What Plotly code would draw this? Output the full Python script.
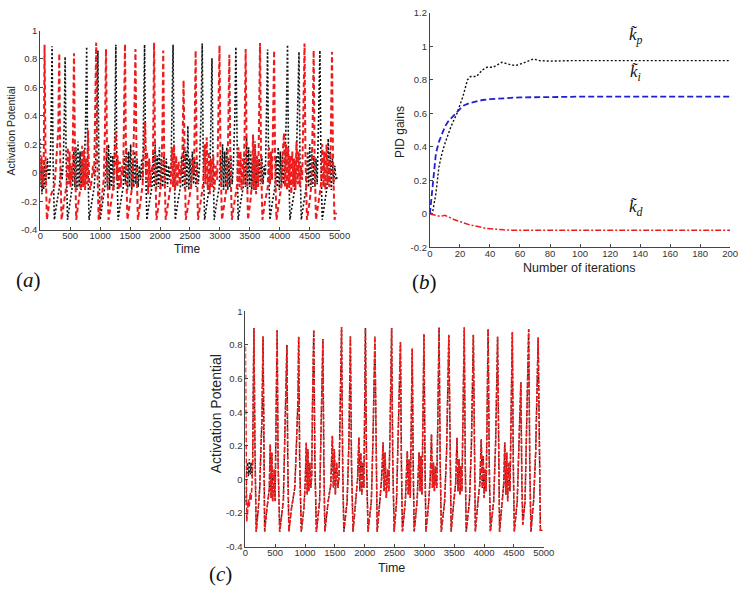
import plotly.graph_objects as go

W, H = 750, 593

# ---------------- data: panel (a) ----------------
# reference (black dotted): (time, activation potential) vertices
a_ref = [(0,0.24),(8,-0.1),(18,0.1),(28,-0.15),(40,0.0),(55,-0.12),(70,0.08),(85,-0.1),(100,-0.02),(120,0.1),(140,-0.05),(160,0.0),(180,0.3),(197,0.89),(213,0.1),(235,-0.33),
 (280,-0.2),(320,-0.1),(345,0.05),(365,-0.05),(385,0.1),(400,0.35),(415,0.816),(432,0.1),(455,-0.33),
 (500,-0.2),(540,-0.08),(560,0.15),(578,-0.1),(595,0.18),(612,-0.12),(630,0.22),(648,-0.1),(665,0.15),(682,-0.12),(700,0.1),(718,-0.08),(735,0.05),(755,0.3),(775,0.886),(792,0.1),(815,-0.33),
 (860,-0.2),(900,-0.1),(925,0.05),(945,0.35),(962,0.86),(978,0.1),(1000,-0.33),
 (1045,-0.2),(1085,-0.08),(1105,0.15),(1122,-0.1),(1140,0.2),(1158,-0.12),(1175,0.14),(1192,-0.1),(1210,0.12),(1228,-0.12),(1245,0.3),(1262,0.9),(1278,0.1),(1300,-0.33),
 (1345,-0.2),(1385,-0.1),(1405,0.12),(1422,-0.08),(1440,0.18),(1458,-0.12),(1475,0.15),(1492,-0.1),(1510,0.2),(1528,-0.12),(1545,0.1),(1562,-0.1),(1580,0.15),(1598,-0.08),(1615,0.1),(1635,-0.1),(1655,0.05),(1675,-0.05),(1695,0.1),(1712,-0.05),(1725,0.4),(1742,0.9),(1758,0.1),(1780,-0.33),
 (1825,-0.2),(1865,-0.1),(1885,0.15),(1902,-0.1),(1920,0.2),(1938,-0.12),(1955,0.12),(1972,-0.1),(1990,0.18),(2008,-0.12),(2025,0.1),(2045,-0.1),(2065,0.12),(2085,-0.08),(2105,0.1),(2125,-0.1),(2145,0.05),(2165,-0.05),(2185,0.05),(2200,0.4),(2218,0.9),(2234,0.1),(2255,-0.33),
 (2300,-0.2),(2340,-0.1),(2360,0.12),(2378,-0.1),(2395,0.2),(2412,-0.12),(2430,0.15),(2448,-0.1),(2465,0.33),(2482,-0.12),(2500,0.1),(2520,-0.1),(2540,0.15),(2560,-0.08),(2580,0.1),(2600,-0.1),(2620,0.08),(2640,-0.08),(2660,0.05),(2685,0.4),(2705,0.908),(2722,0.1),(2745,-0.33),
 (2790,-0.2),(2830,-0.08),(2850,0.35),(2868,0.805),(2885,0.1),(2905,-0.33),
 (2950,-0.2),(2990,-0.1),(3010,0.12),(3028,-0.1),(3045,0.2),(3062,-0.12),(3080,0.15),(3098,-0.1),(3115,0.18),(3132,-0.12),(3150,0.1),(3168,-0.1),(3185,0.12),(3205,-0.08),(3225,0.05),(3250,0.4),(3267,0.885),(3284,0.1),(3305,-0.33),
 (3350,-0.2),(3390,-0.1),(3410,0.15),(3428,-0.1),(3445,0.25),(3462,-0.12),(3480,0.18),(3498,-0.1),(3515,0.15),(3532,-0.12),(3550,0.1),(3568,-0.1),(3585,0.22),(3602,-0.12),(3620,0.12),(3640,-0.1),(3660,0.1),(3680,-0.08),(3700,0.12),(3720,-0.08),(3740,0.05),(3760,-0.02),(3778,0.4),(3797,0.867),(3813,0.1),(3835,-0.33),
 (3880,-0.2),(3920,-0.1),(3940,0.12),(3958,-0.1),(3975,0.18),(3992,-0.12),(4010,0.15),(4028,-0.1),(4045,0.12),(4065,-0.08),(4085,0.05),(4110,0.4),(4130,0.90),(4147,0.1),(4170,-0.33),
 (4215,-0.2),(4255,-0.1),(4275,0.05),(4300,0.4),(4322,0.85),(4338,0.1),(4360,-0.33),
 (4405,-0.2),(4445,-0.1),(4465,0.15),(4482,-0.1),(4500,0.2),(4518,-0.12),(4535,0.15),(4552,-0.1),(4570,0.12),(4588,-0.1),(4605,0.1),(4625,-0.08),(4650,0.4),(4671,0.86),(4688,0.1),(4710,-0.33),
 (4755,-0.2),(4790,-0.1),(4810,0.24),(4828,-0.1),(4845,0.15),(4862,-0.12),(4880,0.1),(4900,-0.08),(4920,0.05),(4940,-0.05),(4960,-0.03)]

# uncontrolled neuron (red dashed)
a_unc = [(0,0.1),(10,-0.05),(20,0.12),(30,-0.08),(42,0.05),(52,-0.1),(60,0.2),(71,0.90),(88,0.1),(110,-0.33),
 (160,-0.18),(200,-0.13),(240,-0.08),(262,0.05),(280,0.15),(300,0.3),(317,0.84),(333,0.1),(355,-0.33),
 (400,-0.18),(440,-0.08),(460,0.18),(475,-0.08),(490,0.15),(505,-0.1),(520,0.05),(535,-0.05),(548,0.35),(563,0.84),(580,0.1),(600,-0.33),
 (645,-0.18),(680,-0.08),(700,0.19),(715,-0.1),(732,0.16),(748,-0.12),(765,0.1),(780,-0.08),(798,0.3),(815,-0.05),(835,-0.12),(860,-0.05),(880,0.05),(900,-0.02),(915,0.4),(934,0.915),(950,0.1),(975,-0.33),
 (1020,-0.2),(1060,-0.05),(1080,0.3),(1098,0.87),(1115,0.1),(1140,-0.33),
 (1185,-0.2),(1220,-0.1),(1245,0.15),(1261,0.29),(1275,-0.05),(1292,0.12),(1310,-0.12),(1328,0.08),(1345,-0.1),(1365,0.05),(1385,-0.02),(1400,0.4),(1415,0.905),(1432,0.1),(1455,-0.33),
 (1500,-0.2),(1540,-0.08),(1565,0.3),(1590,0.87),(1607,0.1),(1630,-0.33),
 (1675,-0.2),(1710,-0.08),(1730,0.16),(1752,0.36),(1768,-0.05),(1785,0.15),(1802,-0.15),(1820,0.1),(1840,-0.1),(1860,0.05),(1880,0.0),(1890,0.45),(1901,0.915),(1918,0.1),(1940,-0.33),
 (1985,-0.2),(2020,-0.05),(2040,0.3),(2054,0.86),(2070,0.1),(2095,-0.33),
 (2140,-0.2),(2180,-0.08),(2200,0.18),(2218,-0.1),(2235,0.2),(2252,-0.12),(2270,0.12),(2290,-0.1),(2310,0.08),(2330,-0.08),(2350,0.05),(2370,0.0),(2393,0.65),(2410,0.1),(2430,-0.33),
 (2480,-0.2),(2520,-0.1),(2545,0.1),(2565,0.0),(2580,0.35),(2595,0.86),(2612,0.1),(2635,-0.33),
 (2680,-0.2),(2720,-0.08),(2745,0.2),(2760,-0.08),(2780,0.25),(2798,-0.12),(2815,0.15),(2832,-0.15),(2850,0.1),(2870,-0.1),(2890,0.12),(2910,-0.12),(2930,0.05),(2955,-0.05),(2975,0.4),(2994,0.895),(3010,0.1),(3035,-0.33),
 (3080,-0.2),(3120,-0.08),(3140,0.3),(3158,0.83),(3175,0.1),(3200,-0.33),
 (3245,-0.2),(3290,-0.08),(3310,0.18),(3328,-0.1),(3345,0.15),(3362,-0.12),(3380,0.1),(3398,-0.08),(3415,0.35),(3431,0.87),(3448,0.1),(3470,-0.33),
 (3515,-0.18),(3540,-0.05),(3554,0.27),(3570,-0.12),(3588,0.2),(3605,-0.15),(3622,0.12),(3640,-0.1),(3655,0.4),(3671,0.913),(3688,0.1),(3710,-0.33),
 (3755,-0.2),(3800,-0.1),(3820,0.18),(3838,-0.08),(3855,0.15),(3872,-0.05),(3890,0.4),(3906,0.86),(3922,0.1),(3945,-0.33),
 (3990,-0.2),(4030,-0.08),(4050,0.15),(4072,0.28),(4088,-0.1),(4105,0.2),(4122,-0.12),(4140,0.18),(4158,-0.1),(4175,0.12),(4192,-0.15),(4210,0.15),(4228,-0.1),(4245,0.1),(4262,-0.12),(4280,0.22),(4298,-0.08),(4315,0.15),(4335,-0.1),(4355,0.05),(4375,-0.05),(4395,0.4),(4414,0.908),(4430,0.1),(4455,-0.33),
 (4500,-0.2),(4530,-0.08),(4550,0.35),(4567,0.86),(4583,0.1),(4605,-0.33),
 (4650,-0.2),(4690,-0.08),(4710,0.2),(4728,-0.1),(4745,0.15),(4762,-0.12),(4782,0.2),(4800,-0.08),(4815,0.1),(4830,-0.1),(4845,0.0),(4858,0.4),(4873,0.85),(4890,0.1),(4915,-0.33),(4945,-0.28)]

# ---------------- data: panel (c) ----------------
# controlled neuron (red dashed) – tracks the reference
c_ctrl = [(0,0.79),(12,0.2),(22,-0.25),(35,-0.2),(50,-0.12),(65,-0.16),(80,-0.08),(95,-0.12),(110,-0.04),(122,0.1),(130,0.5),(143,0.90),(160,0.2),(181,-0.31),
 (215,-0.18),(240,-0.05),(262,0.2),(278,0.36),(296,0.85),(310,0.1),(323,-0.31),
 (362,-0.17),(400,-0.06),(417,0.21),(430,-0.11),(444,0.16),(456,-0.13),(471,-0.03),(485,0.06),(498,-0.13),(515,0.3),(532,0.89),(548,0.1),(575,-0.31),
 (636,-0.13),(665,0.25),(696,0.80),(710,0.1),(729,-0.31),
 (773,-0.17),(828,-0.05),(855,0.2),(882,0.48),(893,0.85),(910,0.1),(937,-0.31),
 (981,-0.17),(1003,-0.02),(1020,0.22),(1036,-0.09),(1047,0.18),(1063,-0.07),(1080,0.10),(1096,-0.05),(1112,0.02),(1125,0.45),(1146,0.89),(1165,0.1),(1190,-0.31),
 (1244,-0.13),(1270,0.26),(1299,0.835),(1315,0.1),(1332,-0.31),
 (1387,-0.13),(1431,-0.03),(1458,0.26),(1475,-0.05),(1491,0.18),(1508,-0.09),(1530,0.10),(1551,-0.05),(1570,0.02),(1595,0.45),(1612,0.905),(1630,0.1),(1650,-0.31),
 (1705,-0.13),(1735,0.22),(1760,0.85),(1778,0.1),(1804,-0.31),
 (1847,-0.13),(1880,0.0),(1902,0.25),(1919,-0.07),(1935,0.16),(1952,-0.09),(1968,0.10),(1985,-0.05),(1995,0.26),(2012,0.90),(2030,0.1),(2056,-0.31),
 (2111,-0.13),(2140,0.26),(2171,0.85),(2188,0.1),(2209,-0.31),
 (2253,-0.13),(2286,0.02),(2308,0.22),(2325,-0.07),(2341,0.16),(2362,-0.11),(2385,0.06),(2405,-0.07),(2425,0.3),(2451,0.90),(2470,0.1),(2494,-0.31),
 (2533,-0.13),(2570,0.35),(2599,0.815),(2615,0.1),(2632,-0.31),
 (2681,-0.13),(2714,0.17),(2730,-0.09),(2747,0.12),(2764,-0.11),(2780,0.4),(2796,0.78),(2812,0.1),(2829,-0.31),
 (2878,-0.13),(2911,0.16),(2928,-0.07),(2944,0.14),(2960,-0.09),(2975,0.26),(2993,0.864),(3010,0.1),(3026,-0.31),
 (3065,-0.17),(3097,0.0),(3119,0.27),(3135,-0.05),(3152,0.10),(3168,-0.07),(3185,0.08),(3207,-0.05),(3225,0.35),(3246,0.903),(3265,0.1),(3284,-0.31),
 (3339,-0.13),(3372,0.16),(3410,0.86),(3428,0.1),(3449,-0.31),
 (3493,-0.13),(3525,-0.02),(3547,0.25),(3563,-0.07),(3580,0.12),(3597,-0.09),(3613,0.08),(3629,-0.07),(3646,0.35),(3668,0.903),(3685,0.1),(3701,-0.31),
 (3755,-0.13),(3788,0.2),(3821,0.86),(3838,0.1),(3854,-0.31),
 (3898,-0.13),(3931,-0.02),(3953,0.24),(3970,-0.05),(3986,0.14),(4002,-0.11),(4018,0.06),(4035,-0.07),(4050,0.35),(4068,0.895),(4087,0.1),(4106,-0.31),
 (4161,-0.13),(4194,0.22),(4227,0.848),(4244,0.1),(4260,-0.31),
 (4304,-0.13),(4331,-0.02),(4347,0.22),(4364,-0.09),(4380,0.16),(4396,-0.13),(4413,0.10),(4435,-0.07),(4452,0.35),(4474,0.876),(4490,0.1),(4507,-0.31),
 (4556,-0.13),(4589,0.26),(4617,0.578),(4633,0.0),(4649,-0.27),
 (4687,-0.13),(4710,0.22),(4748,0.895),(4766,0.1),(4786,-0.31),
 (4830,-0.13),(4865,0.16),(4907,0.844),(4925,0.1),(4945,-0.31),(4973,-0.30)]
# reference (black) differs only at the very start
c_ref_start = [(0,-0.1),(10,-0.15),(20,0.05),(35,0.1),(50,0.02),(65,0.12),(80,0.03),(95,0.1),(110,0.02)]

# ---------------- data: panel (b) ----------------
kp_iter = [0,2,4,6,8,10,14,18,22,25,27,31,35,38,42,48,54,57,62,69,73,80,95,200]
kp_val  = [0,0.02,0.12,0.28,0.36,0.42,0.52,0.6,0.7,0.8,0.82,0.82,0.86,0.875,0.875,0.905,0.89,0.885,0.9,0.925,0.915,0.912,0.915,0.915]
ki_iter = [0,2,4,6,8,10,12,15,18,22,26,30,35,40,45,52,60,80,100,200]
ki_val  = [0,0.2,0.36,0.43,0.48,0.52,0.55,0.58,0.61,0.645,0.66,0.67,0.68,0.685,0.688,0.693,0.696,0.697,0.70,0.70]
kd_iter = [0,4,7,10,16,26,38,49,56,200]
kd_val  = [0,-0.009,-0.015,-0.008,-0.033,-0.064,-0.087,-0.095,-0.098,-0.098]

# ---------------- ticks ----------------
act_tickvals = [-0.4,-0.2,0,0.2,0.4,0.6,0.8,1.0]
act_ticktext = ["-0.4","-0.2","0","0.2","0.4","0.6","0.8","1"]
time_tickvals = [0,500,1000,1500,2000,2500,3000,3500,4000,4500,5000]
gain_tickvals = [-0.2,0,0.2,0.4,0.6,0.8,1.0,1.2]
gain_ticktext = ["-0.2","0","0.2","0.4","0.6","0.8","1","1.2"]
iter_tickvals = [0,20,40,60,80,100,120,140,160,180,200]

def split(pts):
    return [p[0] for p in pts], [p[1] for p in pts]

RED = "#ee1c1c"
fig = go.Figure()

t, v = split(a_ref)
fig.add_trace(go.Scatter(x=t, y=v, mode="lines", xaxis="x", yaxis="y",
                         line=dict(color="#111111", width=1.6, dash="2px,2px")))
t, v = split(a_unc)
fig.add_trace(go.Scatter(x=t, y=v, mode="lines", xaxis="x", yaxis="y",
                         line=dict(color=RED, width=2.0, dash="5px,3px")))

fig.add_trace(go.Scatter(x=kp_iter, y=kp_val, mode="lines", xaxis="x2", yaxis="y2",
                         line=dict(color="#111111", width=1.4, dash="2px,2px")))
fig.add_trace(go.Scatter(x=ki_iter, y=ki_val, mode="lines", xaxis="x2", yaxis="y2",
                         line=dict(color="#2020d0", width=1.8, dash="6px,3px")))
fig.add_trace(go.Scatter(x=kd_iter, y=kd_val, mode="lines", xaxis="x2", yaxis="y2",
                         line=dict(color=RED, width=1.5, dash="6px,2px,2px,2px")))

t0, v0 = split(c_ref_start)
t1, v1 = split([p for p in c_ctrl if p[0] >= 122])
fig.add_trace(go.Scatter(x=t0 + t1, y=v0 + v1, mode="lines", xaxis="x3", yaxis="y3",
                         line=dict(color="#111111", width=1.4, dash="2px,2px")))
t, v = split(c_ctrl)
fig.add_trace(go.Scatter(x=t, y=v, mode="lines", xaxis="x3", yaxis="y3",
                         line=dict(color=RED, width=1.6, dash="5px,2px")))

def px(x): return x / W
def py(y): return 1 - y / H

axis_common = dict(showgrid=False, zeroline=False, showline=True, linecolor="#444444",
                   linewidth=1, ticks="inside", ticklen=3, tickcolor="#444444",
                   ticklabeloverflow="allow",
                   tickfont=dict(family="Liberation Sans, Arial", size=9.5, color="#333333"))
xaxis_extra = dict(ticklabelstandoff=-3)

fig.update_layout(
    width=W, height=H, margin=dict(l=0, r=0, t=0, b=0),
    paper_bgcolor="white", plot_bgcolor="white", showlegend=False,
    xaxis=dict(domain=[px(38), px(343)], range=[0, 5000], anchor="y",
               tickvals=time_tickvals, **axis_common, **xaxis_extra),
    yaxis=dict(domain=[py(228), py(25)], range=[-0.4, 1], anchor="x",
               tickvals=act_tickvals, ticktext=act_ticktext, **axis_common),
    xaxis2=dict(domain=[px(435), px(741)], range=[0, 200], anchor="y2",
                tickvals=iter_tickvals, **axis_common, **xaxis_extra),
    yaxis2=dict(domain=[py(246), py(7)], range=[-0.2, 1.2], anchor="x2",
                tickvals=gain_tickvals, ticktext=gain_ticktext, **axis_common),
    xaxis3=dict(domain=[px(247), px(551)], range=[0, 5000], anchor="y3",
                tickvals=time_tickvals, **axis_common, **xaxis_extra),
    yaxis3=dict(domain=[py(551), py(311)], range=[-0.4, 1], anchor="x3",
                tickvals=act_tickvals, ticktext=act_ticktext, **axis_common),
)

sans = "Liberation Sans, Arial"
serif = "Liberation Serif, Times New Roman"
ann = []
def label(text, x, y, size, angle=0, family=sans, color="#222222"):
    ann.append(dict(text=text, x=px(x), y=py(y), xref="paper", yref="paper",
                    showarrow=False, textangle=angle, xanchor="center", yanchor="middle",
                    font=dict(family=family, size=size, color=color)))

label("Time", 188, 248, 12)
label("Activation Potential", 8, 127, 10.5, angle=-90)
label("Number of iterations", 587, 267, 12.5)
label("PID gains", 404, 128, 12, angle=-90)
label("Time", 396, 573, 12.5)
label("Activation Potential", 217, 415, 14, angle=-90)
label("(<i>a</i>)", 26, 279, 21, family=serif, color="#111111")
label("(<i>b</i>)", 430, 281, 21, family=serif, color="#111111")
label("(<i>c</i>)", 222, 579, 21, family=serif, color="#111111")

for txt, yv in [("p", 1.06), ("i", 0.84), ("d", 0.035)]:
    ann.append(dict(text="<i>k\u0303</i><sub><i>%s</i></sub>" % txt, x=137, y=yv,
                    xref="x2", yref="y2", showarrow=False, xanchor="center", yanchor="middle",
                    font=dict(family=serif, size=17, color="#111111")))

fig.update_layout(annotations=ann)
fig.write_html("out.html", config={"displayModeBar": False},
               post_script="document.body.style.margin='0px';document.body.style.overflow='hidden';")
